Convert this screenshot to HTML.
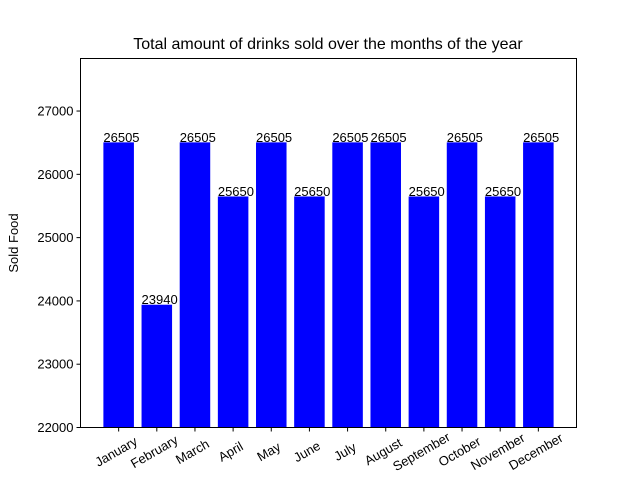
<!DOCTYPE html>
<html><head><meta charset="utf-8"><style>body{margin:0;background:#fff}svg{font-family:"Liberation Sans","DejaVu Sans",sans-serif}</style></head>
<body>
<svg id="chart" width="640" height="480" xmlns="http://www.w3.org/2000/svg">
<rect width="640" height="480" fill="#fff"/>
<text x="328" y="49" font-size="16" text-anchor="middle">Total amount of drinks sold over the months of the year</text>
<text transform="translate(18,243) rotate(-90)" font-size="13" text-anchor="middle">Sold Food</text>
<g id="bars"></g><g id="axes"></g>
<rect x="80.5" y="58.5" width="496" height="369" fill="none" stroke="#000" stroke-width="1"/>
</svg>
<script>
const categories=["January","February","March","April","May","June","July","August","September","October","November","December"];
const values=[26505,23940,26505,25650,26505,25650,26505,26505,25650,26505,25650,26505];
const yTicks=[22000,23000,24000,25000,26000,27000];
const NS="http://www.w3.org/2000/svg";
const L=80.5,R=576.5,T=58.5,B=427.5,ymin=22000,ymax=27830,xmin=-1,xmax=12;
const xs=v=>L+(v-xmin)/(xmax-xmin)*(R-L);
const ys=v=>B-(v-ymin)/(ymax-ymin)*(B-T);
function mk(t,a,p){const e=document.createElementNS(NS,t);for(const k in a)e.setAttribute(k,a[k]);p.appendChild(e);return e;}
const bars=document.getElementById('bars'),axes=document.getElementById('axes');
values.forEach((v,i)=>{
 const r=mk('rect',{x:xs(i-0.4),y:ys(v),width:xs(0.8)-xs(0),height:B-ys(v),fill:'#0000ff'},bars);
 
 
 const t=mk('text',{x:xs(i-0.4),y:ys(v)-0.5,'font-size':13},bars);t.textContent=v;
 
 
 const x=xs(i);
 mk('line',{x1:x,x2:x,y1:B,y2:B+4,stroke:'#000'},axes);
 const lt=mk('text',{transform:`translate(${x-2},${B+25}) rotate(-30)`,'font-size':13,'text-anchor':'middle','dominant-baseline':'middle'},axes);lt.textContent=categories[i];
 
 
});
yTicks.forEach(v=>{
 const y=ys(v);
 mk('line',{x1:L-4,x2:L,y1:y,y2:y,stroke:'#000'},axes);
 const t=mk('text',{x:L-7,y:y+4.5,'font-size':13,'text-anchor':'end'},axes);t.textContent=v;
 
 
});
</script>
</body></html>
